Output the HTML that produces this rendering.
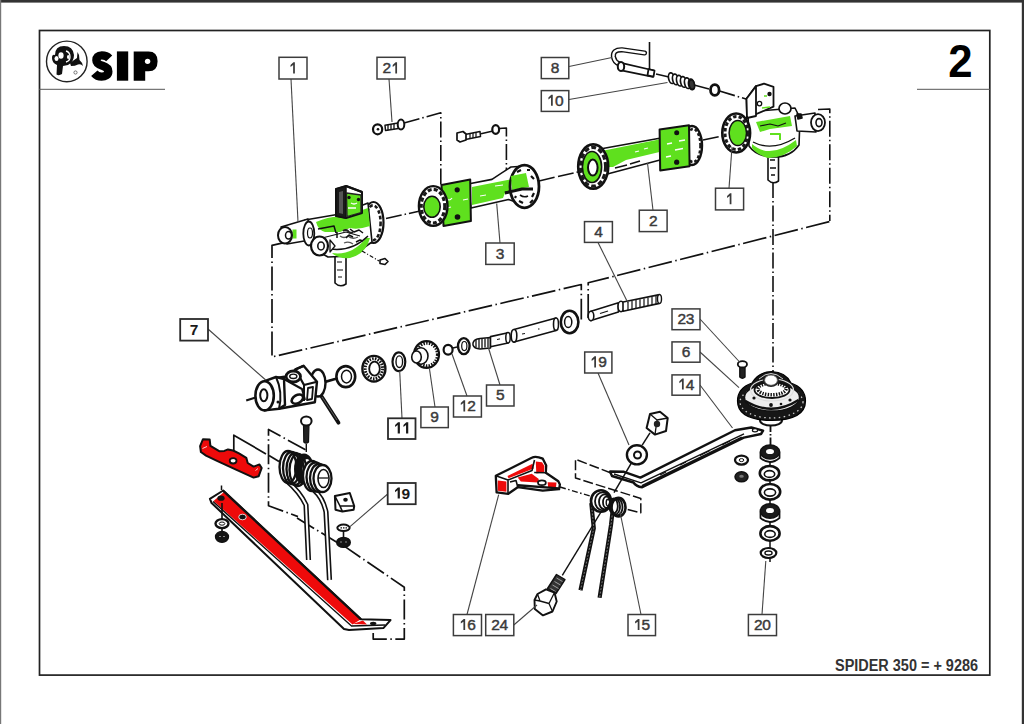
<!DOCTYPE html>
<html><head><meta charset="utf-8"><style>
html,body{margin:0;padding:0;background:#fff;width:1024px;height:724px;overflow:hidden}
svg{position:absolute;left:0;top:0;display:block}
text{font-family:"Liberation Sans",sans-serif}
</style></head><body>
<svg width="1024" height="724" viewBox="0 0 1024 724">
<rect x="0" y="0" width="1024" height="724" fill="#fff"/>
<rect x="0" y="0" width="1024" height="2.6" fill="#333"/>
<rect x="1021.8" y="0" width="2.2" height="724" fill="#333"/>
<rect x="0" y="0" width="1.2" height="724" fill="#777"/>
<rect x="39.5" y="30.5" width="950.3" height="644.6" fill="none" stroke="#222" stroke-width="1.7"/>
<line x1="39" y1="89.3" x2="165" y2="89.3" stroke="#555" stroke-width="1"/>
<line x1="917" y1="89.3" x2="990" y2="89.3" stroke="#555" stroke-width="1"/>
<text transform="translate(948.3,77) scale(0.93,1)" font-size="47" font-weight="bold" fill="#000">2</text>
<text x="835" y="670.8" font-size="15.8" font-weight="bold" fill="#333" textLength="143" lengthAdjust="spacingAndGlyphs">SPIDER 350 = + 9286</text>
<!-- Part 1 left gearbox -->
<g id="partA" stroke="#111" stroke-width="1.6" stroke-linejoin="round">
<!-- shaft down -->
<path d="M335,252 L335,283 Q340,288 346,284 L346,252 Z" fill="#fff"/>
<path d="M337,262 h5 M337,270 h6 M338,277 h4" stroke-width="1.2" fill="none"/>
<!-- right flange -->
<ellipse cx="373.5" cy="222.5" rx="10" ry="20.5" fill="#fff" stroke-width="2.2"/>
<ellipse cx="373" cy="222.8" rx="7.6" ry="17.4" fill="none" stroke="#1a1a1a" stroke-width="2.6" stroke-dasharray="3.5 2.2"/>
<!-- body -->
<path d="M305,220 L340,214 L368,203 L372,242 L352,256 L328,257 L312,248 Z" fill="#fff"/>
<path d="M316,222 Q330,216 342,217 Q356,212 368,208 L370,226 Q358,230 350,228 L340,232 L325,232 Q318,230 316,222 Z" fill="#5fe01e" stroke="none"/>
<path d="M332,253 Q352,256 366,238 L370,238 Q366,254 350,258 Q338,259 332,253 Z" fill="#5fe01e" stroke="none"/>
<path d="M330,249 Q352,252 368,236" fill="none" stroke-width="1.4"/>
<path d="M322,238 L346,232 L360,236" fill="none" stroke-width="1.2"/>
<path d="M340,236 q4,3 8,0 q4,4 10,1 M344,243 q5,-2 9,1" fill="none" stroke="#555" stroke-width="1.3"/>
<path d="M318,229 L334,226 L336,233 M350,229 l4,3 l5,-2 l4,3 M346,238 l3,-3 l4,2 M356,242 l4,-2 l3,1 M337,232 L337,238" fill="none" stroke="#111" stroke-width="1.5"/>
<path d="M343,231 q3,-2 5,0 q2,3 5,1" fill="none" stroke="#222" stroke-width="2"/>
<!-- arm left -->
<path d="M281,227 L308,219 L310,240 L287,244 Z" fill="#fff"/>
<rect x="292.5" y="229.5" width="4" height="9" fill="#5fe01e" stroke="none"/>
<ellipse cx="285" cy="235.3" rx="7" ry="8.3" fill="#fff" stroke-width="2"/>
<ellipse cx="288.5" cy="235.3" rx="3" ry="3.8" fill="#fff" stroke-width="1.5"/>
<ellipse cx="308.8" cy="233.5" rx="5.5" ry="12" fill="#fff" stroke-width="1.8"/>
<ellipse cx="310" cy="233" rx="2.5" ry="5" fill="#fff" stroke-width="1.2"/>
<!-- front roller -->
<ellipse cx="319.5" cy="246" rx="8.5" ry="9.5" fill="#fff" stroke-width="2.2"/>
<ellipse cx="321" cy="246" rx="3.2" ry="4" fill="#fff" stroke-width="1.6"/>
<path d="M330,240 L335,246 L330,252 Z" fill="#fff" stroke-width="1.3"/>
<!-- vertical plate -->
<path d="M336,189 L346,186 L362,192 L362,213 L346,218 L336,216 Z" fill="#fff" stroke-width="2"/>
<path d="M336,189 L346,186 L346,218 L336,216 Z" fill="#1a1a1a" stroke-width="1.5"/>
<path d="M339,192 L343,191 L343,214 L339,213 Z" fill="#555" stroke="none"/>
<path d="M346.5,193 L361,195 L361,212.5 L347,216.5 Z" fill="#5fe01e" stroke="#222" stroke-width="1.3"/>
<path d="M346,186 L362,192" stroke-width="2.4"/>
<circle cx="349" cy="197.5" r="1.7" fill="#111" stroke="none"/>
<circle cx="358.5" cy="199.5" r="1.7" fill="#111" stroke="none"/>
<path d="M348,208 h8 M351,203 q3,2 6,0" stroke="#fff" stroke-width="1.3" fill="none"/>
<!-- dashed to small part -->
<path d="M362,251 L379,261" stroke-width="1.2" stroke-dasharray="4 2 1 2" fill="none"/>
<path d="M380,260 l5,-1.5 l3,3 l-3,3 l-5,-1 Z" fill="#fff" stroke-width="1.6"/>
</g>
<!-- Part 3 middle tube + bolts -->
<g id="partB" stroke="#111" stroke-width="1.6" stroke-linejoin="round">
<!-- dash-dot lines -->
<g fill="none" stroke-width="1.6" stroke-dasharray="16 3 1.5 3">
<path d="M404,123 L440.8,112.7 L440.8,185"/>
<path d="M481,133.8 L493,131 M499,128.5 L506.4,128 L506.4,170"/>
<path d="M386,218.5 L420,211"/>
<path d="M539,181 L556,177"/>
</g>
<!-- washer + bolt 21 -->
<ellipse cx="377.6" cy="129.3" rx="4.6" ry="5" fill="#fff" stroke-width="2.2"/>
<circle cx="378" cy="129.3" r="1.3" fill="#111" stroke="none"/>
<path d="M385,125.2 L398,123 L398.5,128.5 L385.5,130.5 Z" fill="#fff" stroke-width="1.5"/>
<path d="M388,124.8 v5.5 M391,124.3 v5.5 M394,123.8 v5.5" stroke-width="1.3"/>
<ellipse cx="401" cy="124.5" rx="3.3" ry="5" fill="#fff" stroke-width="2"/>
<!-- middle bolt -->
<path d="M465,134.5 L480,131.5 L480.5,136.5 L465.5,139.5 Z" fill="#fff" stroke-width="1.5"/>
<path d="M470,133.5 v5 M473,133 v5 M476,132.3 v5" stroke-width="1.2"/>
<path d="M457,133 L463,131.5 L466,134 L466,140 L460,142 L457,140 Z" fill="#fff" stroke-width="1.7"/>
<ellipse cx="495.7" cy="129.5" rx="3.4" ry="4.4" fill="#fff" stroke-width="2.2"/>
<!-- tube -->
<path d="M468,184 L492,179.4 Q503,172 511,167 L526,166 L528,206 L508.5,199.5 L471,208 Z" fill="#fff"/>
<path d="M472,187 L518,178 L526,176 L528,187 L505,193 L503,198 L472,205 Z" fill="#5fe01e" stroke="none"/>
<path d="M505,193 L522,189 L531,189" fill="none" stroke-width="2.5"/>
<path d="M495,186 l8,-1 M480,196 l6,-1" stroke="#fff" stroke-width="1"/>
<!-- right flange -->
<ellipse cx="524.5" cy="186.5" rx="14.5" ry="21.3" fill="#fff" stroke-width="2.8"/>
<path d="M511,176 L526,173 L529,187 L512,190 Z" fill="#5fe01e" stroke="none"/>
<path d="M517,172 l4,-2 M531,176 l3,3 M534,193 l-2,4 M519,201 l4,2 M527,170 l3,0 M530,203 l3,-3 M516,196 l-1,2" stroke-width="2.2"/>
<path d="M505,193 L522,189 L533,189" fill="none" stroke-width="3"/>
<path d="M520,195 q4,3 8,1" fill="none" stroke-width="1.6"/>
<!-- plate -->
<path d="M441.5,184.9 L470.2,179.4 L470.9,221.1 L443.5,225.9 Z" fill="#5fe01e" stroke-width="2"/>
<circle cx="457.2" cy="189.8" r="2.6" fill="#111" stroke="none"/>
<circle cx="457.5" cy="217" r="2.8" fill="#111" stroke="none"/>
<path d="M446,198 q3,4 6,0 M447,208 l4,-1 M463,200 l5,-1" stroke="#fff" stroke-width="1.2" fill="none"/>
<!-- left flange -->
<ellipse cx="433.2" cy="206" rx="14.3" ry="19.9" fill="#fff" stroke-width="2.4"/>
<ellipse cx="433" cy="206.2" rx="11.8" ry="16.8" fill="none" stroke="#1a1a1a" stroke-width="3.2" stroke-dasharray="4 2.2"/>
<ellipse cx="432" cy="206.8" rx="8.2" ry="10.5" fill="#5fe01e" stroke-width="1.6"/>
</g>
<!-- Part 2 right tube, part 1R, hook 8, spring 10 -->
<g id="partC" stroke="#111" stroke-width="1.6" stroke-linejoin="round">
<g fill="none" stroke-width="1.6" stroke-dasharray="16 3 1.5 3">
<path d="M558,176.5 L578,172"/>
<path d="M703,140 L722,136"/>
<path d="M694,85 L709,89"/>
<path d="M719.5,91 L746,99"/>
<path d="M818,109.5 L829.8,109 L829.8,221"/>
<path d="M773,182 L773,372"/>
</g>
<!-- hook 8 -->
<path d="M649.5,42 L649.5,70" fill="none" stroke-width="1.6"/>
<path d="M644.5,53 L622,49.8 Q612.5,49.5 613.5,57 Q614.5,62 619,64" fill="none" stroke="#111" stroke-width="5.2" stroke-linecap="round"/>
<path d="M644.5,53 L622,49.8 Q612.5,49.5 613.5,57 Q614.5,62 619,64" fill="none" stroke="#fff" stroke-width="2.4" stroke-linecap="round"/>
<path d="M621,62.8 L654,70.5 L653,76.8 L620,70.2 Z" fill="#fff" stroke-width="1.7"/>
<ellipse cx="621" cy="66.5" rx="3.2" ry="4.6" fill="#fff" stroke-width="2"/>
<path d="M648.5,69.2 L654.5,70.6 L653.5,76.6 L647.5,75.3 Z" fill="#fff" stroke-width="1.8"/>
<!-- spring 10 -->
<path d="M656,74 L669,77" fill="none" stroke-width="1.6"/>
<ellipse cx="671.5" cy="78.20" rx="2.9" ry="5.4" fill="#fff" stroke-width="1.7" transform="rotate(-12 671.5 78.20)"/>
<ellipse cx="675.5" cy="79.45" rx="2.9" ry="5.4" fill="#fff" stroke-width="1.7" transform="rotate(-12 675.5 79.45)"/>
<ellipse cx="679.5" cy="80.70" rx="2.9" ry="5.4" fill="#fff" stroke-width="1.7" transform="rotate(-12 679.5 80.70)"/>
<ellipse cx="683.5" cy="81.95" rx="2.9" ry="5.4" fill="#fff" stroke-width="1.7" transform="rotate(-12 683.5 81.95)"/>
<ellipse cx="687.5" cy="83.20" rx="2.9" ry="5.4" fill="#fff" stroke-width="1.7" transform="rotate(-12 687.5 83.20)"/>
<ellipse cx="691.5" cy="84.45" rx="2.9" ry="5.4" fill="#fff" stroke-width="1.7" transform="rotate(-12 691.5 84.45)"/>
<ellipse cx="691.8" cy="84.6" rx="2.6" ry="4.6" fill="#333" stroke-width="1.5" transform="rotate(-12 691.8 84.6)"/>
<!-- washer -->
<ellipse cx="714.8" cy="90" rx="4.3" ry="5.3" fill="#fff" stroke-width="2.8"/>
<!-- tube 2 -->
<path d="M602.8,148.5 L659.6,138.2 L660,160.1 L608.3,173.8 Z" fill="#fff"/>
<path d="M604,150.5 L659,139.5 L659.5,152 L626,160 L613,167 L607,167 Z" fill="#5fe01e" stroke="none"/>
<path d="M615,168 l12,-3 M630,164 l10,-3" stroke="#111" stroke-width="1.5"/>
<path d="M635,152 l4,-1 M644,149 l4,-1" stroke="#fff" stroke-width="1.2"/>
<!-- right dome of 2 -->
<ellipse cx="692" cy="145.5" rx="10" ry="19.5" fill="#fff" stroke-width="2.4"/>
<ellipse cx="693" cy="145.5" rx="7.5" ry="16.5" fill="none" stroke="#1a1a1a" stroke-width="2.6" stroke-dasharray="3 2"/>
<!-- plate 2 -->
<path d="M659.6,129.4 L689,125.3 L689.6,166.3 L660.2,170.4 Z" fill="#5fe01e" stroke-width="2"/>
<circle cx="676.7" cy="132.8" r="2.5" fill="#111" stroke="none"/>
<circle cx="676.7" cy="162.2" r="2.6" fill="#111" stroke="none"/>
<path d="M667,144 l5,-1 M675,150 l8,-1.5 M666,157 l5,-1 M679,141 l6,-1" stroke="#fff" stroke-width="1.3"/>
<!-- left flange 2 -->
<ellipse cx="593.2" cy="166.6" rx="15" ry="22.2" fill="#fff" stroke-width="2.6"/>
<ellipse cx="593" cy="166.8" rx="12.6" ry="19.4" fill="none" stroke="#1a1a1a" stroke-width="3.2" stroke-dasharray="5 2.4"/>
<ellipse cx="592" cy="167" rx="9.6" ry="15.5" fill="#5fe01e" stroke-width="1.6"/>
<ellipse cx="592.8" cy="167.6" rx="4.8" ry="8" fill="#fff" stroke-width="2"/>
<!-- gearbox 1R -->
<!-- shaft -->
<path d="M768,150 L768,180 Q773,185 778.5,181 L778.5,150 Z" fill="#fff"/>
<path d="M770,160 h5 M770,168 h6 M771,175 h4" stroke-width="1.3"/>
<!-- body -->
<path d="M748,112 L795,108 L800,118 L799,145 Q790,158 772,157 Q756,156 749,146 Z" fill="#fff"/>
<path d="M756,122 L790,116 L792,126 L770,129 L760,132 Z" fill="#5fe01e" stroke="none"/>
<path d="M752,144 Q770,160 796,140 L797,146 Q784,158 768,158 Q756,154 752,148 Z" fill="#5fe01e" stroke="none"/>
<path d="M753,142 Q772,152 795,138" fill="none" stroke-width="1.4"/>
<path d="M760,126 l10,-2 l8,2 l8,-3" fill="none" stroke-width="1.2"/>
<path d="M770,134 h10 v6" fill="none" stroke="#5fe01e" stroke-width="2"/>
<!-- small top cylinder -->
<ellipse cx="785" cy="108.5" rx="6" ry="5.5" fill="#fff" stroke-width="1.7"/>
<!-- arm right -->
<path d="M795,116 L815,113 L816,132 L797,131 Z" fill="#fff" stroke-width="1.6"/>
<path d="M797,114 l4,0 l1,4 l-4,1 Z" fill="#111"/>
<ellipse cx="818" cy="122.6" rx="7" ry="8.5" fill="#fff" stroke-width="1.8"/>
<ellipse cx="819" cy="122.6" rx="3" ry="4" fill="#fff" stroke-width="1.6"/>
<!-- vertical plate -->
<path d="M746.5,98.8 L756,86.1 L764,83.7 L773.5,86.9 L773.5,106.7 L747,118 Z" fill="#fff" stroke-width="1.8"/>
<path d="M746.5,98.8 L756,86.1 L756,116 L747,118 Z" fill="#fff" stroke-width="1.8"/>
<circle cx="769.5" cy="94" r="2.2" fill="#111" stroke="none"/>
<circle cx="759.5" cy="103.6" r="2.2" fill="#fff" stroke="#111" stroke-width="1.3"/>
<path d="M762,108 l8,-1 M764,96 l3,0" stroke="#5fe01e" stroke-width="1.5"/>
<!-- flange 1R -->
<ellipse cx="736.2" cy="133" rx="13.9" ry="19.5" fill="#fff" stroke-width="2.6"/>
<ellipse cx="736.4" cy="133" rx="11.4" ry="16.6" fill="none" stroke="#1a1a1a" stroke-width="3" stroke-dasharray="3.5 2.2"/>
<ellipse cx="737.8" cy="133" rx="8.7" ry="12.5" fill="#5fe01e" stroke-width="1.5"/>
</g>
<!-- frames, washer row, shafts, U-joint -->
<g id="partD" stroke="#111" stroke-width="1.6" stroke-linejoin="round">
<g fill="none" stroke-width="1.7" stroke-dasharray="24 3.5 1.5 3.5">
<path d="M283,242.8 L272,245.3 L272,357 L581.3,284.5 L581.3,319.5"/>
<path d="M588.2,318 L588.2,282.8 L829.8,221.5"/>
</g>
<path d="M588.2,317.5 L592,316.5" fill="none" stroke-width="1.5"/>
<path d="M326,381 L337,378" fill="none" stroke-width="1.8"/>
<!-- seal ring -->
<ellipse cx="345.8" cy="376.6" rx="9.4" ry="10.5" fill="#fff" stroke-width="2.6"/>
<ellipse cx="346.5" cy="376.6" rx="5" ry="6.3" fill="#fff" stroke-width="1.5"/>
<!-- bearing -->
<ellipse cx="373.9" cy="368.7" rx="11.5" ry="12.8" fill="#fff" stroke-width="2.4"/>
<ellipse cx="373.9" cy="368.7" rx="8.7" ry="10" fill="none" stroke-width="3" stroke-dasharray="1.6 1.2"/>
<ellipse cx="374.5" cy="368.7" rx="5.3" ry="7" fill="#fff" stroke-width="1.8"/>
<!-- washer 11 -->
<ellipse cx="398.9" cy="361.7" rx="6.4" ry="9.4" fill="#fff" stroke-width="2.2"/>
<ellipse cx="399.3" cy="361.7" rx="3.3" ry="5.8" fill="#fff" stroke-width="1.4"/>
<!-- gear 9 -->
<ellipse cx="426.5" cy="354.5" rx="12.5" ry="13.3" fill="#fff" stroke-width="2.2"/>
<ellipse cx="427" cy="354.5" rx="10.5" ry="11.4" fill="none" stroke-width="3.2" stroke-dasharray="1.5 1.3"/>
<ellipse cx="421" cy="356" rx="7" ry="8.2" fill="#fff" stroke-width="1.6"/>
<ellipse cx="416.5" cy="357" rx="4.8" ry="6" fill="#fff" stroke-width="1.6"/>
<!-- ring 12 -->
<ellipse cx="448.1" cy="349.7" rx="4.5" ry="4.9" fill="#fff" stroke-width="2.2"/>
<path d="M453,348 L457,347" stroke-width="1.4"/>
<!-- circlip -->
<ellipse cx="463.8" cy="346.1" rx="5.8" ry="8" fill="#fff" stroke-width="2.4"/>
<ellipse cx="464.3" cy="346.1" rx="2.6" ry="4.6" fill="#fff" stroke-width="1.2"/>
<!-- spline cone -->
<path d="M473,343 Q474,339 480,338.5 L490.5,337.5 L490.5,348 L480,349 Q474,348.5 473,345 Z" fill="#fff" stroke-width="1.5"/>
<path d="M476,340 l0,7 M479,339 l0,9 M482,339 l0,9 M485,338.5 l0,9 M488,338 l0,9.5" stroke-width="1.3"/>
<!-- tube 1 -->
<path d="M490.5,336.6 L508,332.7 L508,343 L490.5,346.8 Z" fill="#fff" stroke-width="1.6"/>
<ellipse cx="508" cy="337.8" rx="2.2" ry="5.2" fill="#fff" stroke-width="1.5"/>
<path d="M497,339.5 l3,-0.6" stroke-width="1"/>
<!-- tube 2 -->
<path d="M514,329.5 L556,318 L556,330.5 L514,342 Z" fill="#fff" stroke-width="1.6"/>
<ellipse cx="514" cy="335.8" rx="2.8" ry="6.3" fill="#fff" stroke-width="1.6"/>
<ellipse cx="556" cy="324.2" rx="2.5" ry="6.2" fill="#fff" stroke-width="1.6"/>
<path d="M522,334 l3,-0.5 M538,329 l1.5,0" stroke-width="1"/>
<!-- washer -->
<ellipse cx="569.6" cy="322" rx="8.8" ry="11.2" fill="#fff" stroke-width="2.6"/>
<ellipse cx="568.2" cy="322" rx="3.6" ry="5.6" fill="#fff" stroke-width="1.5"/>
<!-- part 4 shaft -->
<path d="M591,311.2 L618.4,302.8 L618.4,312 L591,320.6 Z" fill="#fff" stroke-width="1.6"/>
<ellipse cx="591" cy="315.9" rx="2.8" ry="4.7" fill="#fff" stroke-width="1.6"/>
<path d="M600,313.5 l8,-2.5" stroke-width="1.1"/>
<ellipse cx="621" cy="306.5" rx="3" ry="5.2" fill="#fff" stroke-width="1.6"/>
<path d="M623,302 L659.5,294.6 L659.5,303.4 L623,311.3 Z" fill="#fff" stroke-width="1.6"/>
<ellipse cx="659.5" cy="299" rx="2" ry="4.4" fill="#fff" stroke-width="1.4"/>
<path d="M628,302 l0,8 M632,301 l0,8.5 M636,300 l0,8.5 M640,299.3 l0,8.3 M644,298.5 l0,8.3 M648,297.7 l0,8.3 M652,297 l0,8 M656,296 l0,8" stroke-width="1.2"/>
<!-- U-joint 7 -->
<path d="M246.2,400.5 L257,397" stroke-width="2"/>
<path d="M325,382.2 L336,379" stroke-width="2"/>
<path d="M320,394 L338.5,422.7" stroke-width="3.8" stroke-linecap="round"/>
<path d="M322,397 L337,420" stroke="#666" stroke-width="0.9"/>
<!-- right cap -->
<ellipse cx="318" cy="383" rx="7.5" ry="13.5" fill="#fff" stroke-width="2.4"/>
<!-- yoke body -->
<path d="M295.4,369.4 L303.6,365.8 L317,381.7 L314.9,402.2 L279,408.8 L272,392 L276,378 L290,376 Z" fill="#fff" stroke-width="2.4"/>
<path d="M303.6,365.8 L295.4,369.4 L304,385 L317,381.7" fill="none" stroke-width="2.2"/>
<path d="M283,378.5 L302,389 L305,400 M304,385 L304,401" fill="none" stroke-width="2"/>
<path d="M308,388 L313,387 L312,399 L307,400 Z" fill="#fff" stroke-width="1.8"/>
<!-- cylinder -->
<path d="M264.6,381.2 L276,377 L284,379 L285,405 L279,408.8 L264.6,410.4 Z" fill="#fff" stroke-width="2.4"/>
<path d="M276,377 Q283,392 279,408.8" fill="none" stroke-width="2"/>
<ellipse cx="264.6" cy="395.8" rx="9.2" ry="14.6" fill="#fff" stroke-width="2.6"/>
<ellipse cx="263.8" cy="395.2" rx="3.6" ry="6" fill="#fff" stroke-width="2"/>
<!-- ears -->
<ellipse cx="293.3" cy="376.5" rx="7.2" ry="5.5" fill="#fff" stroke-width="2.8"/>
<ellipse cx="293.3" cy="376.3" rx="3.6" ry="2.2" fill="#fff" stroke-width="1.4"/>
<ellipse cx="297.4" cy="399.1" rx="6.2" ry="4" fill="#fff" stroke-width="2.6" transform="rotate(-30 297.4 399.1)"/>
<circle cx="278" cy="402" r="1.5" fill="#111" stroke="none"/>
</g>
<!-- hub 6, bolt 23, bar 14, nut, washer 19, stack 20 -->
<g id="partE" stroke="#111" stroke-width="1.6" stroke-linejoin="round">
<path d="M770.5,424 L770.5,446" stroke-width="1.8" stroke-dasharray="8 2 1.5 2" fill="none"/>
<path d="M770,446 L770,562" stroke-width="1.5"/>
<!-- bolt 23 -->
<path d="M739.8,366 L745,366 L745,377 Q742.4,379.5 739.8,377 Z" fill="#222" stroke-width="1.4"/>
<ellipse cx="742.4" cy="364.3" rx="4.6" ry="3.2" fill="#fff" stroke-width="1.8"/>
<!-- hub 6 -->
<ellipse cx="771" cy="420.5" rx="11" ry="5" fill="#fff" stroke-width="2"/>
<path d="M737.5,401 Q737.5,388 752,383 Q758,372 771.5,371.5 Q786,372 791,383 Q805.5,388 805.5,401 Q805.5,420 771.5,420.5 Q737.5,420 737.5,401 Z" fill="#161616" stroke="#000" stroke-width="1.2"/>
<ellipse cx="771.5" cy="402" rx="31.5" ry="16" fill="none" stroke="#ccc" stroke-width="1.3" stroke-dasharray="1.5 3.4"/>
<ellipse cx="772" cy="397.5" rx="27.5" ry="13.5" fill="#eee" stroke="#111" stroke-width="1.4"/>
<ellipse cx="772" cy="390" rx="21.5" ry="11" fill="none" stroke="#ddd" stroke-width="1.2"/>
<path d="M745.5,401 Q772,417 798.5,400" fill="none" stroke="#111" stroke-width="2.4"/>
<circle cx="771" cy="405" r="1.9" fill="#111" stroke="none"/>
<circle cx="754" cy="398" r="1.6" fill="#111" stroke="none"/>
<circle cx="790" cy="400" r="1.6" fill="#111" stroke="none"/>
<circle cx="781" cy="404" r="1.3" fill="#111" stroke="none"/>
<ellipse cx="772" cy="390" rx="17.5" ry="8" fill="#fff" stroke-width="1.8"/>
<ellipse cx="772" cy="389" rx="14" ry="5.8" fill="none" stroke-width="3.4" stroke-dasharray="1.4 1.3"/>
<ellipse cx="771" cy="380.4" rx="8" ry="6.5" fill="#222" stroke="none"/>
<ellipse cx="771" cy="380.2" rx="6.4" ry="5.1" fill="#fff" stroke="#555" stroke-width="0.8"/>
<path d="M759,379 Q771,368 783,379" fill="none" stroke="#ccc" stroke-width="1"/>
<!-- bar 14 -->
<path d="M735,430.2 L751.3,427.5 L763.1,430.7 L761,434 L743.8,437.7 L642.2,487.2 Q636,486.5 633.5,482.5 L612,476 L610,471.5 L624,471.8 L640.4,477.6 Z" fill="#fff" stroke-width="2.4"/>
<path d="M744,433.8 L641,482.8 L614,474" fill="none" stroke-width="1.4"/>
<path d="M742,437.5 L642,486" fill="none" stroke-width="2.4"/>
<path d="M700,455.5 l10,-5 M660,475 l6,-3 M722,445 l8,-4 M680,465 l6,-3" stroke-width="1.2"/>
<ellipse cx="755" cy="430.3" rx="2.6" ry="1.6" fill="#fff" stroke-width="1.2"/>
<!-- nut -->
<path d="M650,414 L660,411.8 L667.7,418 L666,431 L655,434.6 L646.6,428 Z" fill="#fff" stroke-width="2"/>
<path d="M650,414 L657,420 L667.7,418 M657,420 L655,434.6" fill="none" stroke-width="1.3"/>
<circle cx="657" cy="424" r="3.2" fill="#222" stroke="none"/>
<path d="M650,432.9 L642.2,445.2" stroke-width="1.5"/>
<!-- washer 19 -->
<ellipse cx="636.9" cy="454.8" rx="10" ry="9.6" fill="#fff" stroke-width="2.4"/>
<ellipse cx="637.5" cy="455" rx="3.5" ry="3.5" fill="#fff" stroke-width="2"/>
<path d="M631.6,462.7 L614,492.6" stroke-width="1.5"/>
<!-- small washers -->
<ellipse cx="741.5" cy="460.1" rx="6.5" ry="4.5" fill="#fff" stroke-width="2.3"/>
<ellipse cx="741.5" cy="460.1" rx="2.3" ry="1.5" fill="#fff" stroke-width="1"/>
<ellipse cx="741.5" cy="476.8" rx="6.5" ry="5" fill="#222" stroke-width="1.5"/>
<ellipse cx="741.5" cy="476.3" rx="2.3" ry="1.5" fill="#777" stroke="none"/>
<!-- stack 20 -->
<path d="M760.5,453 L760.5,458 Q770,466 779.5,458 L779.5,453 Z" fill="#fff" stroke-width="1.8"/>
<ellipse cx="770" cy="452" rx="9.7" ry="7" fill="#1a1a1a" stroke-width="1.5"/>
<ellipse cx="770" cy="451.5" rx="4" ry="2.6" fill="#fff" stroke="none"/>
<ellipse cx="769.5" cy="473.2" rx="9.7" ry="7.2" fill="#fff" stroke-width="2.6"/>
<ellipse cx="769.5" cy="474" rx="5.2" ry="3.4" fill="#fff" stroke-width="1.6"/>
<ellipse cx="770" cy="491.8" rx="10.2" ry="7.8" fill="#fff" stroke-width="2.6"/>
<ellipse cx="770" cy="492.5" rx="5.6" ry="3.6" fill="#fff" stroke-width="1.6"/>
<path d="M760.5,512 L760.5,518 Q770,526 779.5,518 L779.5,512 Z" fill="#fff" stroke-width="1.8"/>
<ellipse cx="770" cy="511" rx="9.7" ry="7.2" fill="#1a1a1a" stroke-width="1.5"/>
<ellipse cx="770" cy="510.5" rx="4" ry="2.6" fill="#fff" stroke="none"/>
<ellipse cx="770" cy="533.4" rx="9.6" ry="7.3" fill="#fff" stroke-width="2.6"/>
<ellipse cx="770" cy="534" rx="5.2" ry="3.4" fill="#fff" stroke-width="1.6"/>
<ellipse cx="768.5" cy="553" rx="7.8" ry="5" fill="#fff" stroke-width="2.2"/>
<ellipse cx="768.5" cy="553" rx="3.6" ry="2" fill="#fff" stroke-width="1.3"/>
</g>
<!-- red bracket 16, spring 15, dashed box, bolt 24 -->
<g id="partF" stroke="#111" stroke-width="1.6" stroke-linejoin="round">
<!-- dashed parallelogram -->
<g fill="none" stroke-width="1.5" stroke-dasharray="10 3">
<path d="M611,473 L575.5,459.3 L575.5,478 L640.8,498.5 L640.8,512.8 L626,509"/>
</g>
<path d="M560,487 L590,496" fill="none" stroke-width="1.4" stroke-dasharray="6 2.5 1.5 2.5"/>
<!-- bracket 16 -->
<path d="M495.8,475.8 L531.75,457.8 Q535.5,455.6 542.7,458.6 L546.2,465.6 L545.8,472.7 L558.3,481.2 L559.9,484.4 L559.1,489.2 L542.7,490.6 L517.7,487.2 L508.3,493.8 L496.6,492.4 Z" fill="#fff" stroke-width="2.3"/>
<path d="M497.8,480.6 L506.4,481.6 L506.4,491.8 L497.8,490.8 Z" fill="#ee0a0a" stroke="none"/>
<path d="M507.5,476 L532.5,463.8 L533.8,468.4 L508.5,478.2 Z" fill="#ee0a0a" stroke="none"/>
<path d="M535.8,461.5 L542,462.3 L544.4,466 L544,472.3 L536.3,473.4 Z" fill="#ee0a0a" stroke="none"/>
<path d="M517.7,477.5 L531.75,473.8 L538.8,478.9 L538,482.6 L520.8,481.6 Z" fill="#ee0a0a" stroke="none"/>
<path d="M547.6,482.2 L556.5,482.6 L556,487 L548.2,487.4 Z" fill="#ee0a0a" stroke="none"/>
<path d="M495.8,475.8 L508,480 L508,493.6 M508,480 L532,470.6 L534.5,460 M534.2,472.5 L545.8,472.7 M510,482 L516,480.5 L517.7,486.8" fill="none" stroke-width="1.6"/>
<path d="M517.7,485.2 L558.8,488.4" fill="none" stroke-width="2.4"/>
<ellipse cx="541.9" cy="482.8" rx="3.9" ry="2.4" fill="#fff" stroke-width="1.8"/>
<!-- bolt 24 -->
<path d="M601.2,511.6 L562.3,575.4" stroke-width="1.4"/>
<path d="M556.5,574.5 L565,579.5 L556,593.5 L547.5,588.5 Z" fill="#333" stroke-width="1.4"/>
<path d="M556.5,578 l6,3.5 M554.5,581.5 l6,3.5 M552.5,585 l6,3.5 M550.5,588.5 l5,3" stroke="#aaa" stroke-width="0.9"/>
<path d="M537.5,594 L546,589.3 L554.5,592.5 L556.7,601.5 L552.5,611.5 L543,615.4 L534.8,609 L534.5,600 Z" fill="#fff" stroke-width="1.9"/>
<path d="M537.5,594 L540,601 L534.5,600 M540,601 L549,603.5 L554.5,592.5 M549,603.5 L552.5,611.5" fill="none" stroke-width="1.3"/>
<!-- spring 15 legs -->
<path d="M591.3,503 L593.8,528.2 L580.5,590.3" fill="none" stroke-width="4.2"/>
<path d="M591.3,503 L593.8,528.2 L580.5,590.3" fill="none" stroke="#777" stroke-width="1" stroke-dasharray="2 1.5"/>
<path d="M612.5,512 L611,525 L599.6,597.8" fill="none" stroke-width="4.2"/>
<path d="M612.5,512 L611,525 L599.6,597.8" fill="none" stroke="#777" stroke-width="1" stroke-dasharray="2 1.5"/>
<!-- coils -->
<ellipse cx="618.5" cy="507.2" rx="7" ry="9.3" fill="#fff" stroke-width="2.6"/>
<ellipse cx="617" cy="507" rx="5.5" ry="8.5" fill="none" stroke-width="1.8"/>
<ellipse cx="615.2" cy="506.5" rx="4.8" ry="8" fill="none" stroke-width="1.8"/>
<ellipse cx="613.5" cy="506" rx="4.3" ry="7.5" fill="none" stroke-width="1.8"/>
<ellipse cx="601" cy="501" rx="10" ry="10.8" fill="#fff" stroke-width="2.6"/>
<ellipse cx="602.5" cy="501.3" rx="7.5" ry="9" fill="none" stroke-width="1.8"/>
<ellipse cx="604.5" cy="501.8" rx="5.5" ry="7.5" fill="none" stroke-width="1.8"/>
<ellipse cx="606.5" cy="502.3" rx="3.5" ry="5.6" fill="none" stroke-width="1.8"/>
<ellipse cx="608" cy="502.6" rx="1.8" ry="3.4" fill="none" stroke-width="1.4"/>
</g>
<!-- lower-left: red bracket, spring, bar, washers -->
<g id="partG" stroke="#111" stroke-width="1.6" stroke-linejoin="round">
<!-- dashed frames -->
<g fill="none" stroke-width="1.7" stroke-dasharray="20 3.5 1.5 3.5">
<path d="M279,461.5 L269,455.6" /><path d="M233.8,456 L233.8,435.2 L266,453.9" stroke-dasharray="none"/>
<path d="M305.5,449.8 L268.5,429.5 L268.5,505.7 L298,516.6"/>
<path d="M343.9,545.9 L404.3,587.3 L404.3,639.1 L373.2,639.1 L373.2,633"/>
<path d="M297,518 L338,543"/>
</g>
<!-- bolt above spring -->
<path d="M303.5,424 L309,424 L308.5,442 Q306,444.5 303.8,442 Z" fill="#222" stroke-width="1.2"/>
<ellipse cx="306.3" cy="421" rx="5.3" ry="4.5" fill="#fff" stroke-width="2"/>
<path d="M306.3,444 L306.3,452" stroke-width="1.4"/>
<!-- spring legs -->
<path d="M286,480 Q300,492 306,505 L308.5,560" fill="none" stroke-width="5.2"/>
<path d="M286,480 Q300,492 306,505 L308.5,560" fill="none" stroke="#fff" stroke-width="2"/>
<path d="M314,490 Q323,498 326,512 L329.5,580" fill="none" stroke-width="5.2"/>
<path d="M314,490 Q323,498 326,512 L329.5,580" fill="none" stroke="#fff" stroke-width="2"/>
<!-- spring coils left -->
<ellipse cx="304" cy="469" rx="10" ry="15.5" fill="#111" stroke="none"/>
<ellipse cx="307" cy="469" rx="5" ry="10" fill="#fff" stroke="none"/>
<ellipse cx="288" cy="467" rx="8.5" ry="16" fill="none" stroke-width="2.3"/>
<ellipse cx="291.5" cy="468" rx="8.5" ry="16" fill="none" stroke-width="2.3"/>
<ellipse cx="295" cy="469" rx="8.5" ry="16" fill="none" stroke-width="2.3"/>
<ellipse cx="298" cy="470" rx="8.5" ry="16" fill="none" stroke-width="2.3"/>
<!-- spring coils right -->
<ellipse cx="312" cy="476" rx="9" ry="15" fill="#fff" stroke-width="2.3"/>
<ellipse cx="315.5" cy="477" rx="9" ry="14.5" fill="#fff" stroke-width="2.3"/>
<ellipse cx="319" cy="478" rx="9" ry="14" fill="#fff" stroke-width="2.3"/>
<ellipse cx="322.5" cy="478.5" rx="9" ry="13.5" fill="#fff" stroke-width="2.3"/>
<ellipse cx="323.5" cy="478.5" rx="5.5" ry="9" fill="none" stroke-width="1.6"/>
<path d="M318,478 L328,478" stroke-width="1.3"/>
<!-- block -->
<path d="M334.9,496.1 L349.8,493 L354.2,506 L353.6,509.8 L342.4,511.6 L335.5,509.8 Z" fill="#fff" stroke-width="2"/>
<path d="M334.9,496.1 L340,506 L342.4,511.6 M340,506 L354.2,506" fill="none" stroke-width="1.6"/>
<ellipse cx="345.5" cy="499.8" rx="2.3" ry="2" fill="#111" stroke="none"/>
<!-- washer + nut near 19 -->
<ellipse cx="343.5" cy="527.8" rx="6.2" ry="3.2" fill="#fff" stroke-width="2"/>
<path d="M340.5,527.8 h1.5 M343,527.8 h1.5 M345.5,527.8 h1.5" stroke-width="1.2"/>
<path d="M343.5,531 L343.5,537" stroke-width="1.6"/>
<ellipse cx="343.5" cy="542.4" rx="6.8" ry="5" fill="#151515" stroke-width="1.4"/>
<path d="M340,542 h2 M345,542 h2" stroke="#888" stroke-width="1"/>
<!-- red bracket upper -->
<path d="M203,439.2 L209.7,439.5 L210.4,445.8 L219.2,451.2 L224.3,450.9 L228,449.4 L233.1,450.5 L239,453.4 L246.3,457.8 L247.7,463 L253.6,466.6 L259.5,464.4 L261.7,468 L258.7,476.2 L253.6,477.6 L236,469.6 L217,460.8 L206,455.6 L200.9,452 L200.1,446.1 Z" fill="#ee0a0a" stroke="#111" stroke-width="2"/>
<path d="M202.5,448.5 L207,446.5 M255.5,470.5 L258,468.5" stroke="#fcc" stroke-width="1" fill="none"/>
<ellipse cx="233.1" cy="460.8" rx="3.4" ry="2.7" fill="#fff" stroke-width="1.8"/>
<!-- red bar -->
<path d="M221.5,485.5 L221.5,490" stroke-width="1.5"/>
<path d="M223.2,490.5 L361.1,619.3 L390.5,620.1 L383.6,627.9 L349,630 L344,629 L211.6,503 L209.9,498.8 Z" fill="#fff" stroke-width="2"/>
<path d="M224,492 L360.5,619.5 L352.5,624.5 L213.5,501 Z" fill="#ee0a0a" stroke="none"/>
<path d="M213,501.5 L351.5,626 L385,625" fill="none" stroke-width="1.4"/>
<path d="M223,490.8 L361,619.5" fill="none" stroke-width="2.2"/>
<path d="M352.5,624 L367,624.6 L363,620.5 Z" fill="#ee0a0a" stroke="none"/>
<ellipse cx="373.2" cy="623.4" rx="3.2" ry="1.6" fill="#111" stroke="none"/>
<ellipse cx="221" cy="498.2" rx="3.6" ry="2.6" fill="#111" stroke="none"/>
<ellipse cx="242.5" cy="517" rx="3.8" ry="2.8" fill="#111" stroke="#fff" stroke-width="0.8"/>
<!-- washers below bar end -->
<path d="M222,503 L222,520 M222,528 L222,532" stroke-width="1.6"/>
<ellipse cx="222" cy="523.6" rx="6.5" ry="4.5" fill="#fff" stroke-width="2.4"/>
<ellipse cx="222" cy="523.6" rx="2.8" ry="1.6" fill="#fff" stroke-width="1"/>
<ellipse cx="222" cy="536.9" rx="6.5" ry="5.5" fill="#151515" stroke-width="1.3"/>
<path d="M219,536.5 h2 M223,536.5 h2" stroke="#888" stroke-width="1"/>
</g>
<g id="logo">
<circle cx="66.8" cy="61.4" r="20.3" fill="#fff" stroke="#222" stroke-width="1.4"/>
<!-- ram head -->
<path d="M55,55 Q55,46 64,46 Q73,46 74,55 Q74,62 68,65 L63,66 L62,74 Q59,76 56.5,74.5 L57,65 Q52,63 52,58 Q52,54 55,55 Z" fill="#111"/>
<ellipse cx="61" cy="55.5" rx="2.6" ry="3.3" fill="#fff"/>
<ellipse cx="56.5" cy="58.5" rx="2" ry="2.5" fill="#fff"/>
<path d="M66,51 Q70,52 70,57 Q70,61 66,62" fill="none" stroke="#fff" stroke-width="1.3"/>
<ellipse cx="68.2" cy="57" rx="1.2" ry="2" fill="#fff"/>
<!-- leaping animal -->
<path d="M70,63 Q74,60 77,58 L77.5,52 L79,55 L79.5,60 Q82,62 83,66 L81,64.5 Q79,64 78,64.5 Q75,66 71,66 Z" fill="#111"/>
<circle cx="75.5" cy="72.5" r="1.6" fill="none" stroke="#555" stroke-width="0.8"/>
</g>
<g id="siptext" fill="#000">
<path d="M109.2,58.3 C106.8,55.8 104.2,55.4 101.8,55.4 C98,55.4 96.4,57.6 96.4,60.2 C96.4,63.8 99.6,64.8 102.6,65.8 C106,66.9 108.3,68.3 108.3,71.5 C108.3,75 105.2,76.6 101.6,76.6 C98.8,76.6 96.3,75.5 94.3,73.2" fill="none" stroke="#000" stroke-width="8.4"/>
<rect x="116.9" y="51.4" width="11.3" height="29.3"/>
<path d="M133.7,51.4 H148.5 Q157.6,51.4 157.6,61.2 Q157.6,71.2 148.5,71.2 H145.2 V80.7 H133.7 Z"/>
<ellipse cx="147.6" cy="61.3" rx="2.7" ry="2.6" fill="#fff"/>
</g>

<g stroke="#444" stroke-width="1.1" fill="none">
<line x1="291" y1="79" x2="298" y2="222"/>
<line x1="389" y1="79" x2="392" y2="122"/>
<line x1="569" y1="66.5" x2="612" y2="57.5"/>
<line x1="569" y1="99.5" x2="667.5" y2="82.5"/>
<line x1="729" y1="188.2" x2="732" y2="147"/>
<line x1="653" y1="210.2" x2="647.5" y2="163"/>
<line x1="500" y1="243" x2="496.7" y2="203.5"/>
<line x1="598" y1="242.4" x2="628" y2="303"/>
<line x1="208" y1="329" x2="265.7" y2="380"/>
<line x1="402" y1="418.3" x2="399.7" y2="371"/>
<line x1="435" y1="407" x2="429.5" y2="369"/>
<line x1="467" y1="396" x2="452" y2="354"/>
<line x1="500" y1="385" x2="488.5" y2="348"/>
<line x1="700" y1="319" x2="739.6" y2="362"/>
<line x1="700" y1="352" x2="739" y2="387.6"/>
<line x1="700" y1="385" x2="732.5" y2="428"/>
<line x1="598" y1="373" x2="629" y2="445"/>
<line x1="387.7" y1="494" x2="350" y2="526.6"/>
<line x1="467" y1="614.5" x2="498.7" y2="494.7"/>
<line x1="513.8" y1="625" x2="537" y2="605"/>
<line x1="641" y1="614.5" x2="620" y2="512"/>
<line x1="762" y1="614.5" x2="765.8" y2="561"/>
</g>
<rect x="279" y="57.3" width="28.0" height="21.7" fill="#fff" stroke="#3c3c3c" stroke-width="1.5"/>
<path d="M293.13,62.30 h1.75 V73.40 h-1.75 V65.10 L290.53,67.00 V65.00 L293.43,62.30 Z" fill="#3a3a3a"/>
<rect x="377" y="57.3" width="28.0" height="21.7" fill="#fff" stroke="#3c3c3c" stroke-width="1.5"/>
<text x="386.83" y="73.4" font-size="15.5" font-weight="normal" fill="#3a3a3a" stroke="#3a3a3a" stroke-width="0.45" text-anchor="middle">2</text>
<path d="M395.30,62.30 h1.75 V73.40 h-1.75 V65.10 L392.70,67.00 V65.00 L395.60,62.30 Z" fill="#3a3a3a"/>
<rect x="541.3" y="57.5" width="27.5" height="21.1" fill="#fff" stroke="#3c3c3c" stroke-width="1.5"/>
<text x="555.05" y="73.0" font-size="15.5" font-weight="normal" fill="#3a3a3a" stroke="#3a3a3a" stroke-width="0.45" text-anchor="middle">8</text>
<rect x="541.3" y="90.6" width="27.5" height="20.8" fill="#fff" stroke="#3c3c3c" stroke-width="1.5"/>
<path d="M551.01,94.70 h1.75 V105.80 h-1.75 V97.50 L548.41,99.40 V97.40 L551.31,94.70 Z" fill="#3a3a3a"/>
<text x="559.22" y="105.8" font-size="15.5" font-weight="normal" fill="#3a3a3a" stroke="#3a3a3a" stroke-width="0.45" text-anchor="middle">0</text>
<rect x="715.5" y="188.2" width="28.1" height="21.7" fill="#fff" stroke="#3c3c3c" stroke-width="1.5"/>
<path d="M729.68,193.20 h1.75 V204.30 h-1.75 V196.00 L727.08,197.90 V195.90 L729.98,193.20 Z" fill="#3a3a3a"/>
<rect x="639.3" y="210.2" width="27.8" height="21.4" fill="#fff" stroke="#3c3c3c" stroke-width="1.5"/>
<text x="653.20" y="226.0" font-size="15.5" font-weight="normal" fill="#3a3a3a" stroke="#3a3a3a" stroke-width="0.45" text-anchor="middle">2</text>
<rect x="485.8" y="243" width="28.4" height="21.4" fill="#fff" stroke="#3c3c3c" stroke-width="1.5"/>
<text x="500.00" y="258.8" font-size="15.5" font-weight="normal" fill="#3a3a3a" stroke="#3a3a3a" stroke-width="0.45" text-anchor="middle">3</text>
<rect x="584.5" y="221.6" width="27.9" height="20.8" fill="#fff" stroke="#3c3c3c" stroke-width="1.5"/>
<text x="598.45" y="236.8" font-size="15.5" font-weight="normal" fill="#3a3a3a" stroke="#3a3a3a" stroke-width="0.45" text-anchor="middle">4</text>
<rect x="180.2" y="319" width="27.8" height="21.6" fill="#fff" stroke="#2a2a2a" stroke-width="1.8"/>
<text x="194.10" y="335.0" font-size="15.5" font-weight="bold" fill="#1a1a1a" stroke="#1a1a1a" stroke-width="0" text-anchor="middle">7</text>
<rect x="388" y="418.3" width="27.5" height="20.7" fill="#fff" stroke="#2a2a2a" stroke-width="1.8"/>
<path d="M397.71,422.30 h2.2 V433.40 h-2.2 V425.10 L395.11,427.00 V425.00 L398.01,422.30 Z" fill="#1a1a1a"/>
<path d="M406.05,422.30 h2.2 V433.40 h-2.2 V425.10 L403.45,427.00 V425.00 L406.35,422.30 Z" fill="#1a1a1a"/>
<rect x="420.9" y="407" width="27.4" height="20.6" fill="#fff" stroke="#3c3c3c" stroke-width="1.5"/>
<text x="434.60" y="422.0" font-size="15.5" font-weight="normal" fill="#3a3a3a" stroke="#3a3a3a" stroke-width="0.45" text-anchor="middle">9</text>
<rect x="453.5" y="396" width="27.9" height="21.0" fill="#fff" stroke="#3c3c3c" stroke-width="1.5"/>
<path d="M463.41,400.30 h1.75 V411.40 h-1.75 V403.10 L460.81,405.00 V403.00 L463.71,400.30 Z" fill="#3a3a3a"/>
<text x="471.62" y="411.4" font-size="15.5" font-weight="normal" fill="#3a3a3a" stroke="#3a3a3a" stroke-width="0.45" text-anchor="middle">2</text>
<rect x="486.5" y="385" width="27.5" height="21.0" fill="#fff" stroke="#3c3c3c" stroke-width="1.5"/>
<text x="500.25" y="400.4" font-size="15.5" font-weight="normal" fill="#3a3a3a" stroke="#3a3a3a" stroke-width="0.45" text-anchor="middle">5</text>
<rect x="672" y="308.9" width="28.0" height="20.8" fill="#fff" stroke="#3c3c3c" stroke-width="1.5"/>
<text x="681.83" y="324.1" font-size="15.5" font-weight="normal" fill="#3a3a3a" stroke="#3a3a3a" stroke-width="0.45" text-anchor="middle">2</text>
<text x="690.17" y="324.1" font-size="15.5" font-weight="normal" fill="#3a3a3a" stroke="#3a3a3a" stroke-width="0.45" text-anchor="middle">3</text>
<rect x="672" y="341.9" width="28.0" height="20.3" fill="#fff" stroke="#3c3c3c" stroke-width="1.5"/>
<text x="686.00" y="356.6" font-size="15.5" font-weight="normal" fill="#3a3a3a" stroke="#3a3a3a" stroke-width="0.45" text-anchor="middle">6</text>
<rect x="672" y="374.9" width="28.0" height="20.3" fill="#fff" stroke="#3c3c3c" stroke-width="1.5"/>
<path d="M681.96,378.50 h1.75 V389.60 h-1.75 V381.30 L679.36,383.20 V381.20 L682.26,378.50 Z" fill="#3a3a3a"/>
<text x="690.17" y="389.6" font-size="15.5" font-weight="normal" fill="#3a3a3a" stroke="#3a3a3a" stroke-width="0.45" text-anchor="middle">4</text>
<rect x="584.7" y="352" width="27.2" height="21.0" fill="#fff" stroke="#3c3c3c" stroke-width="1.5"/>
<path d="M594.26,356.30 h1.75 V367.40 h-1.75 V359.10 L591.66,361.00 V359.00 L594.56,356.30 Z" fill="#3a3a3a"/>
<text x="602.47" y="367.4" font-size="15.5" font-weight="normal" fill="#3a3a3a" stroke="#3a3a3a" stroke-width="0.45" text-anchor="middle">9</text>
<rect x="387.7" y="483" width="28.0" height="21.2" fill="#fff" stroke="#2a2a2a" stroke-width="1.8"/>
<path d="M397.66,487.50 h2.2 V498.60 h-2.2 V490.30 L395.06,492.20 V490.20 L397.96,487.50 Z" fill="#1a1a1a"/>
<text x="405.87" y="498.6" font-size="15.5" font-weight="bold" fill="#1a1a1a" stroke="#1a1a1a" stroke-width="0" text-anchor="middle">9</text>
<rect x="453.4" y="614.5" width="28.1" height="21.1" fill="#fff" stroke="#3c3c3c" stroke-width="1.5"/>
<path d="M463.41,618.90 h1.75 V630.00 h-1.75 V621.70 L460.81,623.60 V621.60 L463.71,618.90 Z" fill="#3a3a3a"/>
<text x="471.62" y="630.0" font-size="15.5" font-weight="normal" fill="#3a3a3a" stroke="#3a3a3a" stroke-width="0.45" text-anchor="middle">6</text>
<rect x="485.7" y="614.5" width="28.1" height="21.1" fill="#fff" stroke="#3c3c3c" stroke-width="1.5"/>
<text x="495.58" y="630.0" font-size="15.5" font-weight="normal" fill="#3a3a3a" stroke="#3a3a3a" stroke-width="0.45" text-anchor="middle">2</text>
<text x="503.92" y="630.0" font-size="15.5" font-weight="normal" fill="#3a3a3a" stroke="#3a3a3a" stroke-width="0.45" text-anchor="middle">4</text>
<rect x="628" y="614.5" width="27.5" height="21.1" fill="#fff" stroke="#3c3c3c" stroke-width="1.5"/>
<path d="M637.71,618.90 h1.75 V630.00 h-1.75 V621.70 L635.11,623.60 V621.60 L638.01,618.90 Z" fill="#3a3a3a"/>
<text x="645.92" y="630.0" font-size="15.5" font-weight="normal" fill="#3a3a3a" stroke="#3a3a3a" stroke-width="0.45" text-anchor="middle">5</text>
<rect x="748.4" y="614.5" width="28.1" height="21.1" fill="#fff" stroke="#3c3c3c" stroke-width="1.5"/>
<text x="758.28" y="630.0" font-size="15.5" font-weight="normal" fill="#3a3a3a" stroke="#3a3a3a" stroke-width="0.45" text-anchor="middle">2</text>
<text x="766.62" y="630.0" font-size="15.5" font-weight="normal" fill="#3a3a3a" stroke="#3a3a3a" stroke-width="0.45" text-anchor="middle">0</text>
</svg>
</body></html>
